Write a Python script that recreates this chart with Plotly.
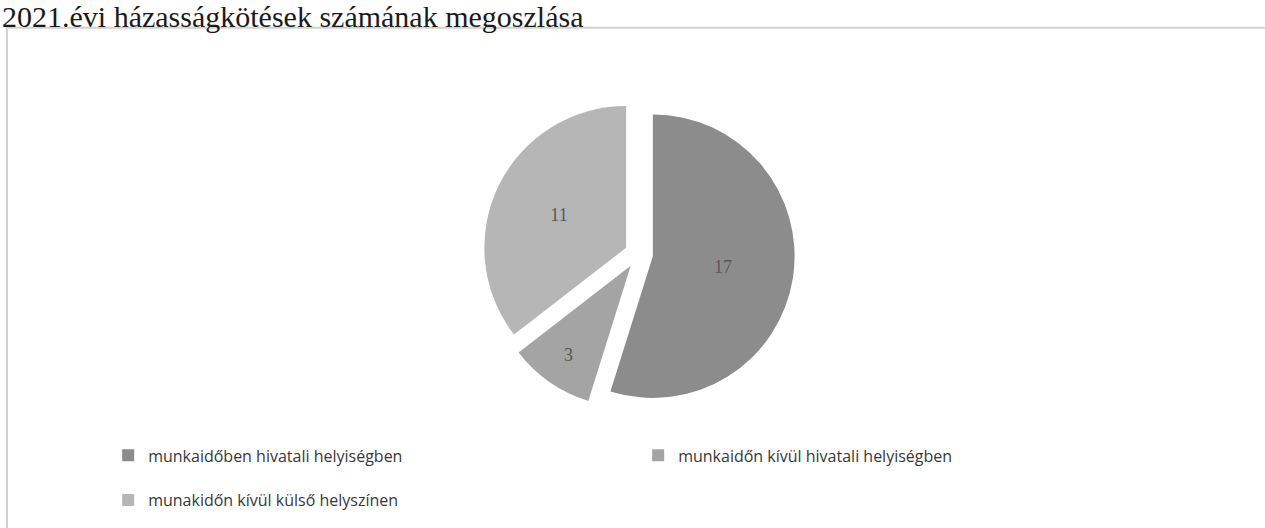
import plotly.graph_objects as go

title_text = "2021.évi házasságkötések számának megoszlása"
categories = [
    "munkaidőben hivatali helyiségben",
    "munkaidőn kívül hivatali helyiségben",
    "munakidőn kívül külső helyszínen",
]
values = [17, 3, 11]
colors = ["#8c8c8c", "#a4a4a4", "#b6b6b6"]

legend_labels = [
    "<span style='font-size:16px;baseline-shift:6px'>%s</span>" % c for c in categories
]

fig = go.Figure()
fig.add_trace(go.Pie(
    labels=legend_labels,
    values=values,
    sort=False,
    direction="clockwise",
    rotation=0,
    pull=[0.1, 0.1, 0.1],
    marker=dict(colors=colors, line=dict(width=0)),
    textinfo="value",
    textposition="inside",
    insidetextorientation="horizontal",
    textfont=dict(family="Liberation Serif", size=18, color="#575757"),
    domain=dict(x=[0.01, 1.0], y=[0.185, 0.805]),
    hoverinfo="value+percent",
))

fig.update_layout(
    width=1265,
    height=528,
    margin=dict(l=0, r=0, t=0, b=0),
    paper_bgcolor="white",
    plot_bgcolor="white",
    showlegend=True,
    legend=dict(
        orientation="h",
        x=0.0855,
        xanchor="left",
        y=0.149,
        yanchor="top",
        entrywidth=485,
        font=dict(family="Open Sans", size=32, color="#383838"),
        bgcolor="rgba(0,0,0,0)",
    ),
    shapes=[
        dict(
            type="rect",
            xref="paper", yref="paper",
            x0=7 / 1265, x1=1.2,
            y0=-0.2, y1=1 - 29 / 528,
            line=dict(color="#d2d2d2", width=2),
            fillcolor="rgba(0,0,0,0)",
            layer="below",
        )
    ],
    annotations=[
        dict(
            text=title_text,
            xref="paper", yref="paper",
            x=0, y=1,
            xanchor="left", yanchor="top",
            yshift=2,
            showarrow=False,
            font=dict(family="Liberation Serif", size=30, color="#1a1a1a"),
        )
    ],
)

fig.write_html(
    "out.html",
    config={"displayModeBar": False},
    post_script="document.body.style.margin='0';",
)
